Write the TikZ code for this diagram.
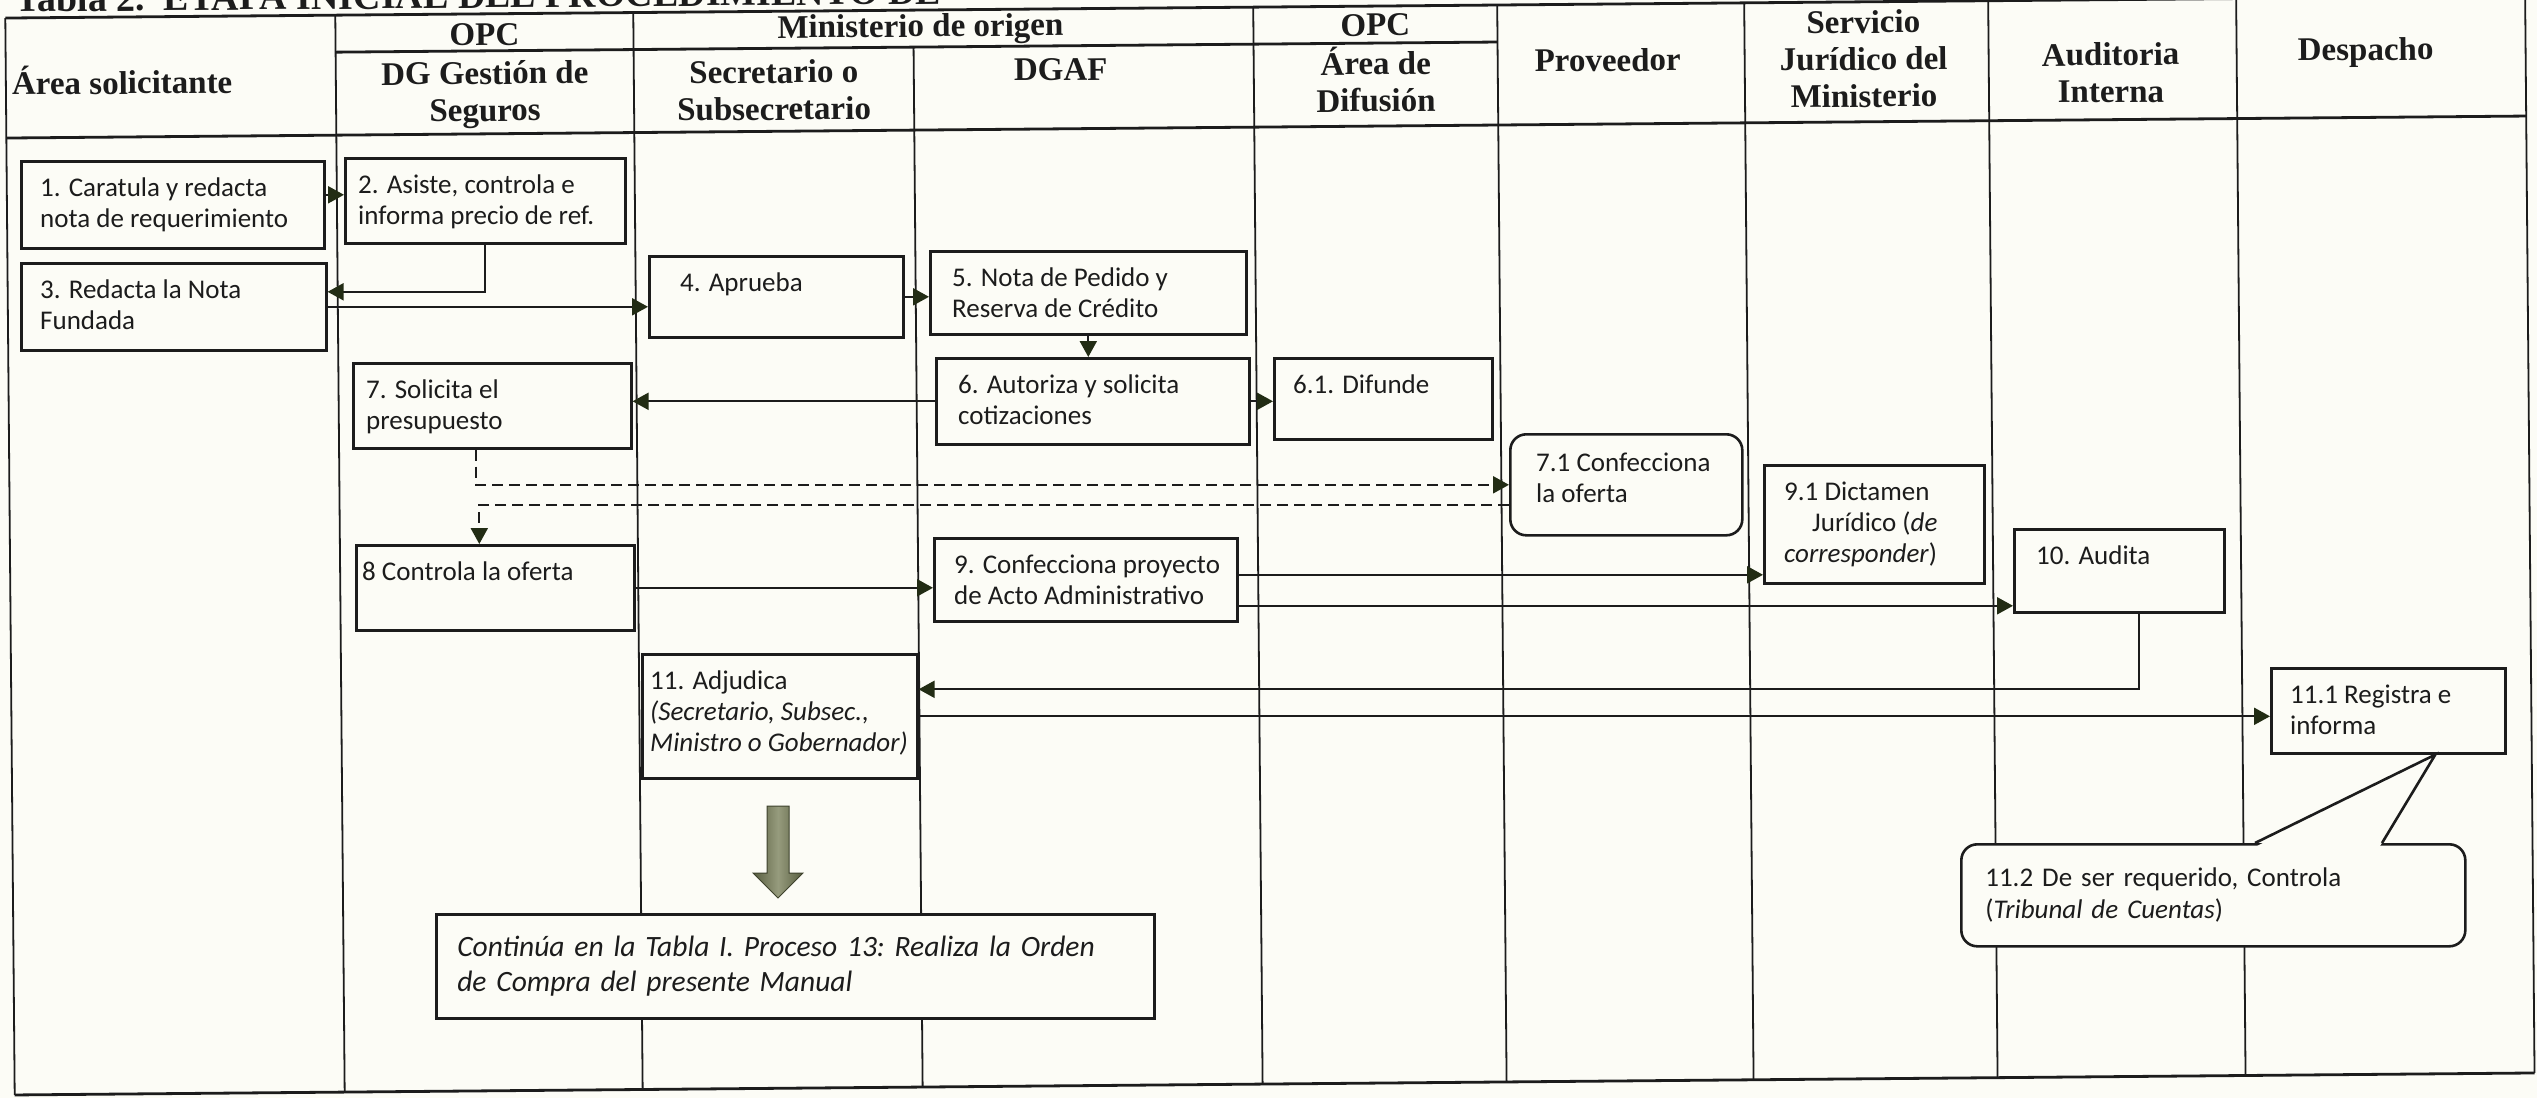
\documentclass[tikz,border=0pt]{standalone}
\usepackage{fontspec}
\setmainfont{Carlito}
\newfontfamily\tablehead{Liberation Serif}
\usetikzlibrary{arrows.meta,calc}
\definecolor{paperWhite}{RGB}{252,252,246}
\definecolor{inkBlack}{RGB}{28,28,28}
\definecolor{tipOlive}{RGB}{34,44,20}
\definecolor{arrowOlive}{RGB}{88,94,64}
\definecolor{arrowLight}{RGB}{150,155,125}

\begin{document}
\begin{tikzpicture}[x=1pt,y=-1pt,
    lane/.style={draw=inkBlack,line width=1.8pt},
    rowline/.style={draw=inkBlack,line width=2.8pt},
    head/.style={font=\tablehead\bfseries\fontsize{33}{37}\selectfont,align=center,text=inkBlack,inner sep=0pt},
    stepbox/.style 2 args={draw=inkBlack,fill=paperWhite,line width=2.6pt,minimum width=#1,minimum height=#2,anchor=north west,inner sep=0pt},
    steptext/.style={anchor=north west,font=\fontsize{27}{31}\selectfont,align=left,text=inkBlack,inner xsep=20pt,inner ysep=18pt},
    notebox/.style={draw=inkBlack,fill=paperWhite,line width=2.6pt,anchor=north west,inner ysep=0pt,align=left,text=inkBlack},
    flow/.style={draw=inkBlack,line width=2.2pt,-{Triangle[length=16pt,width=17pt,color=tipOlive]}},
    offer/.style={flow,dash pattern=on 11pt off 6pt}
  ]
  \useasboundingbox (0,0) rectangle (2537,1098);
  \fill[paperWhite] (0,0) rectangle (2537,1098);
  \clip (0,0) rectangle (2537,1098);

  \begin{scope}[rotate around={0.5:(1270,556)},transform shape]
    \node[anchor=base west,font=\tablehead\bfseries\fontsize{38}{42}\selectfont,inner sep=0pt,text=inkBlack] (title) at (20,1) {Tabla 2.\ \ ETAPA INICIAL DEL PROCEDIMIENTO DE};

    \draw[rowline] (10,7) -- (2530,7);
    \draw[rowline] (340,44) -- (1502,44);
    \draw[rowline] (10,127) -- (2530,127);
    \draw[rowline] (10,1084) -- (2530,1084);
    \foreach \x in {10,340,638,1258,1502,1749,1993,2241,2530}
      \draw[lane] (\x,7) -- (\x,1084);
    \draw[lane] (918,44) -- (918,1084);

    \node[head,anchor=west] (hArea) at (16,70) {Área solicitante};
    \node[head] (hOpcA) at (489,28) {OPC};
    \node[head] (hMin) at (925,26) {Ministerio de origen};
    \node[head] (hDgs) at (489,88) {DG Gestión de\\Seguros};
    \node[head] (hSec) at (778,86) {Secretario o\\Subsecretario};
    \node[head] (hDgaf) at (1065,68) {DGAF};
    \node[head] (hOpcB) at (1380,26) {OPC};
    \node[head] (hDif) at (1380,80) {Área de\\Difusión};
    \node[head] (hProv) at (1612,63) {Proveedor};
    \node[head] (hJur) at (1868,64) {Servicio\\Jurídico del\\Ministerio};
    \node[head] (hAud) at (2115,80) {Auditoria\\Interna};
    \node[head] (hDesp) at (2370,62) {Despacho};
  \end{scope}

  \node[stepbox={303pt}{87pt},label={[steptext]north west:1. Caratula y redacta\\nota de requerimiento}] (b1) at (20,160) {};
  \node[stepbox={280pt}{85pt},label={[steptext,xshift=-6pt]north west:2. Asiste, controla e\\informa precio de ref.}] (b2) at (344,157) {};
  \node[stepbox={305pt}{87pt},label={[steptext]north west:3. Redacta la Nota\\Fundada}] (b3) at (20,262) {};
  \node[stepbox={254pt}{81pt},label={[steptext,xshift=12pt]north west:4. Aprueba}] (b4) at (648,255) {};
  \node[stepbox={316pt}{83pt},label={[steptext,xshift=3pt]north west:5. Nota de Pedido y\\Reserva de Crédito}] (b5) at (929,250) {};
  \node[stepbox={313pt}{86pt},label={[steptext,xshift=3pt]north west:6. Autoriza y solicita\\cotizaciones}] (b6) at (935,357) {};
  \node[stepbox={218pt}{81pt},label={[steptext]north west:6.1. Difunde}] (b61) at (1273,357) {};
  \node[stepbox={278pt}{85pt},label={[steptext,xshift=-6pt]north west:7. Solicita el\\presupuesto}] (b7) at (352,362) {};
  \node[stepbox={232pt}{101pt},rounded corners=16pt,label={[steptext,xshift=7pt,yshift=-2pt]north west:7.1 Confecciona\\la oferta}] (b71) at (1509,433) {};
  \node[stepbox={278pt}{85pt},label={[steptext,xshift=-13pt]north west:8 Controla la oferta}] (b8) at (355,544) {};
  \node[stepbox={303pt}{83pt},label={[steptext,xshift=1pt]north west:9. Confecciona proyecto\\de Acto Administrativo}] (b9) at (933,537) {};
  \node[stepbox={220pt}{118pt},label={[steptext,xshift=1pt]north west:9.1 Dictamen\\\hspace*{28pt}Jurídico (\textit{de}\\\textit{corresponder})}] (b91) at (1763,464) {};
  \node[stepbox={210pt}{83pt},label={[steptext,xshift=3pt]north west:10. Audita}] (b10) at (2013,528) {};
  \node[stepbox={275pt}{124pt},label={[steptext,xshift=-11pt]north west:11. Adjudica\\\textit{(Secretario, Subsec.,}\\\textit{Ministro o Gobernador)}}] (b11) at (641,653) {};
  \node[stepbox={234pt}{85pt},label={[steptext]north west:11.1 Registra e\\informa}] (b111) at (2270,667) {};
  \node[notebox,rounded corners=16pt,minimum width=504pt,minimum height=102pt,text width=456pt,inner xsep=24pt,font=\fontsize{27}{32}\selectfont] (b112) at (1960,843) {11.2 De ser requerido, Controla\\(\textit{Tribunal de Cuentas})};
  \node[notebox,minimum width=718pt,minimum height=104pt,text width=676pt,inner xsep=21pt,font=\frenchspacing\itshape\fontsize{29.5}{35}\selectfont] (bcont) at (435,913) {Continúa en la Tabla I. Proceso 13: Realiza la Orden\\de Compra del presente Manual};

  \coordinate (c12) at ([yshift=10pt]b1.east);
  \coordinate (c23) at ([yshift=15pt]b3.east);
  \coordinate (c7) at ([xshift=-16pt]b7.south);
  \coordinate (c71) at ([yshift=-20pt]b71.west);
  \coordinate (c8) at ([xshift=-16pt]b8.north);
  \coordinate (c91) at ([yshift=5pt]b9.east);
  \coordinate (c9) at ([yshift=-26pt]b9.east);
  \coordinate (c10) at ([xshift=20pt]b10.south);
  \coordinate (c11) at ([yshift=27pt]b11.east);
  \coordinate (tip112) at ([xshift=47pt]b111.south);

  \draw[flow] (c12) -- (c12 -| b2.west);
  \draw[flow] (b2.south) |- (c23);
  \draw[flow] (b3.east) -- (b3.east -| b4.west);
  \draw[flow] (b4.east) -- (b4.east -| b5.west);
  \draw[flow] (b5.south) -- (b5.south |- b6.north);
  \draw[flow] (b6.west) -- (b6.west -| b7.east);
  \draw[flow] (b6.east) -- (b6.east -| b61.west);
  \draw[offer] (c7) |- (b71.west);
  \draw[offer] (c71) -| (c8);
  \draw[flow] (b8.east) -- (b8.east -| b9.west);
  \draw[flow] (c91) -- (c91 -| b91.west);
  \draw[flow] (c9) -- (c9 -| b10.west);
  \draw[flow] (c10) |- (c11);
  \draw[flow] (b11.east) -- (b11.east -| b111.west);

  \fill[paperWhite] (2257,846) -- (tip112) -- (2380,846) -- cycle;
  \draw[draw=inkBlack,line width=2.6pt] (2255,843) -- (tip112) -- (2382,843);

  \path[draw=arrowOlive!70!black,line width=1pt,left color=arrowOlive,right color=arrowOlive,middle color=arrowLight]
    (767,806) -- (789,806) -- (789,873) -- (803,873) -- (778,898) -- (753,873) -- (767,873) -- cycle;
\end{tikzpicture}
\end{document}
